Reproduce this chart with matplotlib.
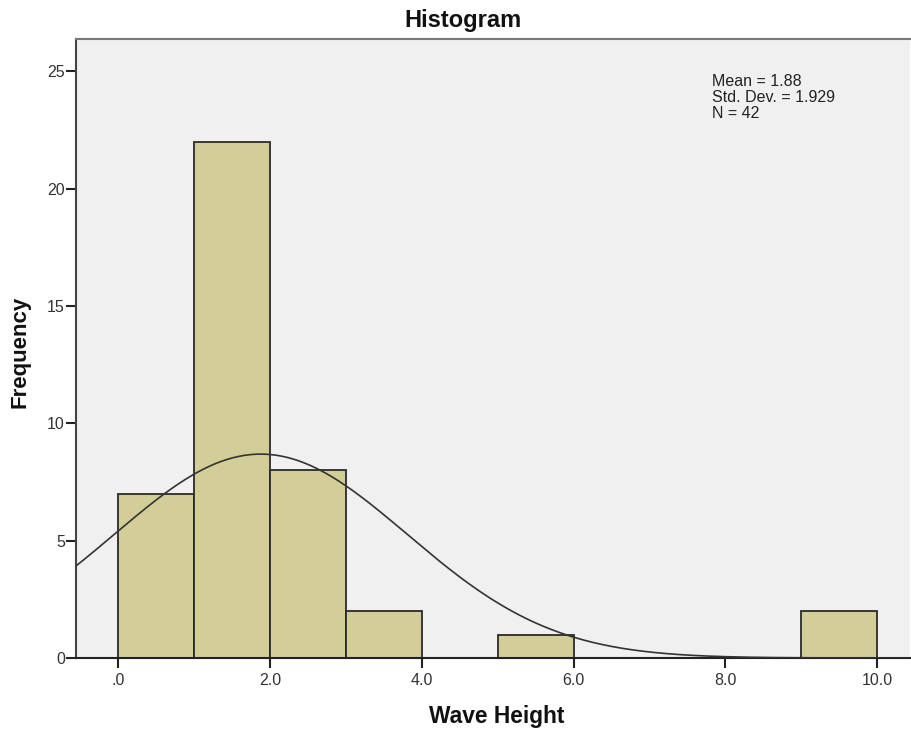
import numpy as np
import matplotlib
matplotlib.use("Agg")
import matplotlib.pyplot as plt

plt.rcParams['font.family'] = ['Liberation Sans', 'DejaVu Sans']

# Histogram of wave heights (bin width 1.0)
bin_edges = [0, 1, 2, 3, 4, 5, 6, 7, 8, 9, 10]
frequencies = [7, 22, 8, 2, 0, 1, 0, 0, 0, 2]
mean_value = 1.88
std_dev = 1.929
n_obs = 42
x_ticks = [0, 2, 4, 6, 8, 10]
x_tick_labels = [".0", "2.0", "4.0", "6.0", "8.0", "10.0"]
y_ticks = [0, 5, 10, 15, 20, 25]

W, H = 911, 732
fig = plt.figure(figsize=(W / 100, H / 100), dpi=100)
fig.patch.set_facecolor("white")
ax = fig.add_axes([76 / W, (H - 658) / H, (910 - 76) / W, (658 - 39) / H])
ax.set_facecolor("#F0F0F0")

widths = np.diff(bin_edges)
lefts = np.array(bin_edges[:-1])
ax.bar(lefts, frequencies, width=widths, align="edge",
       color="#D3CE98", edgecolor="#2a2a2a", linewidth=1.3, zorder=2)

# Normal curve scaled to counts
xs = np.linspace(-0.6, 10.5, 600)
ys = n_obs * 1.0 / (std_dev * np.sqrt(2 * np.pi)) * np.exp(-0.5 * ((xs - mean_value) / std_dev) ** 2)
ax.plot(xs, ys, color="#333333", linewidth=1.2, zorder=3)

ax.set_xlim(-0.553, 10.43)
ax.set_ylim(0, 26.37)
ax.set_xticks(x_ticks)
ax.set_xticklabels(x_tick_labels)
ax.set_yticks(y_ticks)
ax.tick_params(axis="both", direction="out", length=7.5, width=1.5, color="#222222",
               labelsize=11.5, labelcolor="#333333")
ax.tick_params(axis="y", pad=0.5)
ax.tick_params(axis="x", pad=3)

ax.spines["right"].set_visible(False)
ax.spines["top"].set_color("#777777")
ax.spines["top"].set_linewidth(1.5)
ax.spines["left"].set_color("#444444")
ax.spines["left"].set_linewidth(1.5)
ax.spines["bottom"].set_color("#222222")
ax.spines["bottom"].set_linewidth(1.5)

fig.text(463 / W, 1 - 27 / H, "Histogram", ha="center", va="baseline",
         fontsize=17, fontweight="bold", color="#111111")
fig.text(497 / W, 1 - 723 / H, "Wave Height", ha="center", va="baseline",
         fontsize=16.4, fontweight="bold", color="#111111")
fig.text(20 / W, 1 - 352 / H, "Frequency", ha="center", va="center",
         rotation=90, fontsize=16, fontweight="bold", color="#111111")

stats = f"Mean = {mean_value:.2f}\nStd. Dev. = {std_dev:.3f}\nN = {n_obs}"
fig.text(712 / W, 1 - 74 / H, stats, ha="left", va="top",
         fontsize=11.5, color="#222222", linespacing=1.08)

fig.savefig("out.png", dpi=100)
